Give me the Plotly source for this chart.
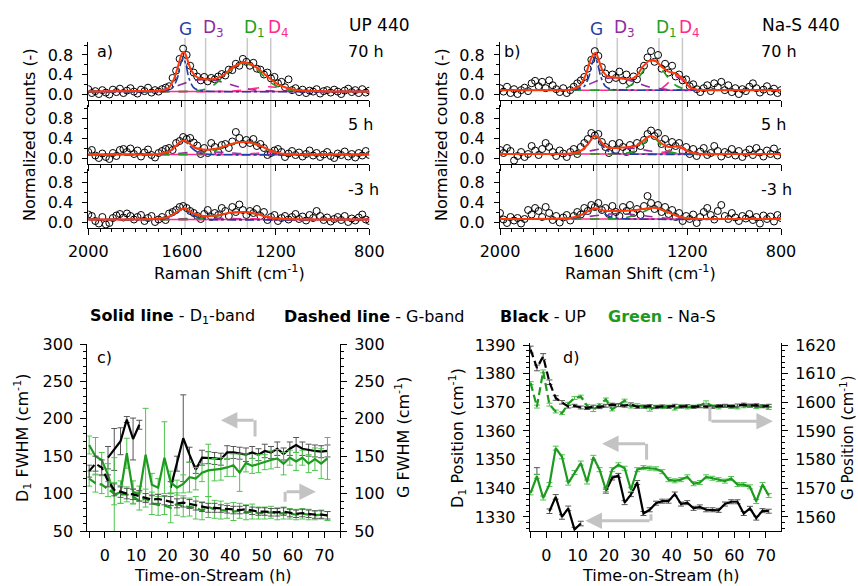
import plotly.graph_objects as go

# ---------------- Raman spectra data ----------------
RAMAN_SHIFT = list(range(2000, 799, -15))
RAMAN_TICKS = [2000, 1800, 1600, 1400, 1200, 1000, 800]
RAMAN_TICK_LABELS = ["2000", "", "1600", "", "1200", "", "800"]
RAMAN_MINOR = list(range(800, 2001, 50))
BAND_NAMES = ["G", "D<sub>3</sub>", "D<sub>1</sub>", "D<sub>4</sub>"]
BAND_CENTERS = [1587, 1499, 1321, 1221]
SPEC_TIMES = ["70 h", "5 h", "-3 h"]

A70_COUNTS = [0.10, 0.02, 0.06, 0.00, 0.08, 0.03, -0.01, 0.09, 0.04, 0.11,
              0.02, 0.07, 0.12, 0.05, 0.01, 0.09, 0.06, 0.13, 0.03, 0.08,
              0.05, 0.10, 0.13, 0.16, 0.33, 0.48, 0.72, 0.93, 0.80, 0.58,
              0.44, 0.36, 0.28, 0.35, 0.26, 0.33, 0.30, 0.36, 0.41, 0.38,
              0.50, 0.49, 0.62, 0.58, 0.72, 0.66, 0.58, 0.64, 0.52, 0.50,
              0.40, 0.44, 0.32, 0.35, 0.22, 0.25, 0.14, 0.30, 0.08, 0.12,
              0.04, 0.09, 0.02, 0.07, 0.05, 0.10, 0.01, 0.06, 0.08, 0.03,
              0.09, 0.05, 0.00, 0.07, 0.11, 0.04, 0.08, 0.02, 0.10, 0.03,
              0.07]
A5_COUNTS = [0.12, 0.16, 0.05, 0.00, 0.09, 0.02, -0.02, 0.10, 0.04, 0.16,
             0.18, 0.12, 0.19, 0.08, 0.15, 0.03, 0.11, 0.17, 0.06, 0.01,
             0.10, 0.14, 0.18, 0.20, 0.16, 0.30, 0.34, 0.42, 0.38, 0.40,
             0.31, 0.25, 0.08, 0.20, 0.10, 0.30, 0.22, 0.12, 0.26, 0.28,
             0.20, 0.33, 0.52, 0.40, 0.28, 0.36, 0.30, 0.38, 0.24, 0.28,
             0.20, 0.06, 0.10, 0.15, 0.18, 0.12, 0.02, 0.09, 0.14, 0.06,
             0.11, 0.03, 0.08, 0.15, 0.05, 0.10, 0.02, 0.07, 0.12, 0.04,
             0.00, 0.09, 0.06, 0.13, 0.03, 0.08, 0.01, 0.10, 0.05, 0.14,
             0.06]
A3_COUNTS = [0.15, 0.12, 0.02, -0.03, 0.10, -0.05, -0.02, 0.08, 0.13, 0.16,
             0.09, 0.17, 0.12, 0.05, 0.10, 0.14, 0.02, 0.08, 0.12, 0.00,
             0.05, 0.10, 0.04, 0.17, 0.20, 0.24, 0.30, 0.32, 0.28, 0.22,
             0.18, 0.12, 0.06, 0.16, 0.24, 0.10, 0.18, 0.14, 0.28, 0.22,
             0.12, 0.30, 0.20, 0.35, 0.24, 0.14, 0.22, 0.18, 0.26, 0.12,
             0.20, 0.04, 0.10, 0.14, 0.02, 0.08, 0.12, 0.05, 0.10, 0.16,
             0.06, 0.11, 0.03, 0.14, 0.08, 0.22, 0.12, 0.04, 0.09, 0.01,
             0.06, 0.10, 0.04, 0.12, 0.00, 0.07, 0.03, 0.09, 0.15, 0.05,
             0.02]
B70_COUNTS = [0.12, 0.05, 0.15, 0.02, 0.10, 0.00, 0.08, 0.13, 0.06, 0.22,
              0.27, 0.16, 0.25, 0.12, 0.28, 0.18, 0.10, 0.04, 0.12, 0.02,
              0.08, 0.15, 0.22, 0.28, 0.35, 0.52, 0.70, 0.88, 0.78, 0.55,
              0.42, 0.30, 0.40, 0.33, 0.46, 0.28, 0.40, 0.24, 0.36, 0.30,
              0.48, 0.58, 0.75, 0.88, 0.66, 0.80, 0.52, 0.62, 0.44, 0.58,
              0.36, 0.40, 0.28, 0.30, 0.16, 0.20, 0.10, 0.04, 0.12, 0.18,
              0.06, 0.22, 0.14, 0.25, 0.08, 0.18, 0.04, 0.12, 0.00, 0.10,
              0.06, 0.15, 0.22, 0.12, 0.03, 0.09, 0.16, 0.05, 0.11, 0.02,
              0.08]
B5_COUNTS = [0.16, 0.10, 0.20, 0.14, -0.05, 0.04, 0.12, 0.02, 0.08, 0.24,
             0.15, 0.06, 0.18, 0.30, 0.22, 0.12, 0.04, 0.15, 0.09, 0.02,
             0.12, 0.18, 0.08, 0.22, 0.30, 0.38, 0.50, 0.45, 0.48, 0.32,
             0.22, 0.10, 0.28, 0.16, 0.30, 0.22, 0.12, 0.26, 0.18, 0.30,
             0.24, 0.36, 0.48, 0.55, 0.44, 0.50, 0.28, 0.38, 0.20, 0.32,
             0.24, 0.30, 0.14, 0.22, 0.08, 0.18, 0.04, 0.13, 0.20, 0.06,
             0.10, 0.24, 0.14, 0.03, 0.12, 0.08, 0.18, 0.05, 0.14, 0.02,
             0.10, 0.17, 0.06, 0.20, 0.11, 0.03, 0.15, 0.08, 0.19, 0.05,
             0.12]
B3_COUNTS = [0.18, 0.05, -0.02, 0.10, 0.03, 0.08, -0.03, 0.06, 0.24, 0.15,
             0.28, 0.22, 0.10, 0.30, 0.18, 0.04, 0.12, -0.01, 0.09, 0.14,
             0.03, 0.12, 0.20, 0.15, 0.28, 0.22, 0.34, 0.30, 0.38, 0.24,
             0.28, 0.16, 0.32, 0.20, 0.12, 0.30, 0.22, 0.34, 0.18, 0.26,
             0.14, 0.32, 0.52, 0.38, 0.26, 0.34, 0.20, 0.30, 0.16, 0.24,
             0.10, 0.18, 0.02, 0.12, 0.06, 0.15, -0.02, 0.10, 0.20, 0.28,
             0.14, 0.05, 0.22, 0.34, 0.12, 0.06, 0.18, 0.09, 0.02, 0.12,
             0.07, 0.16, 0.04, 0.10, -0.03, 0.13, 0.06, 0.11, 0.01, 0.14,
             0.08]

# fitted envelope (red) and band components, read at knot positions
FIT_SHIFT = [2000, 1800, 1700, 1660, 1635, 1615, 1600, 1590, 1580, 1560,
             1540, 1510, 1480, 1450, 1420, 1390, 1360, 1335, 1310, 1280,
             1250, 1220, 1190, 1160, 1120, 1080, 1000, 900, 800]
A70_FIT = [.05, .06, .07, .11, .30, .60, .83, .86, .75, .48, .36, .31, .30, .32, .40,
           .52, .61, .65, .62, .54, .42, .30, .20, .14, .09, .07, .055, .05, .05]
A5_FIT = [.07, .07, .08, .12, .20, .29, .34, .35, .33, .26, .20, .17, .17, .19, .23,
          .28, .31, .32, .31, .27, .21, .15, .10, .08, .07, .07, .07, .07, .07]
A3_FIT = [.05, .05, .07, .10, .16, .22, .26, .27, .25, .20, .15, .12, .12, .13, .16,
          .19, .20, .20, .19, .16, .12, .09, .07, .06, .055, .05, .05, .05, .05]
B70_FIT = [.08, .08, .09, .17, .38, .68, .82, .84, .72, .46, .36, .34, .32, .30, .36,
           .56, .69, .68, .56, .46, .42, .32, .14, .09, .08, .08, .08, .08, .08]
B5_FIT = [.08, .08, .09, .13, .22, .34, .43, .44, .40, .28, .21, .20, .21, .22, .24,
          .34, .44, .40, .29, .22, .23, .20, .12, .09, .08, .08, .08, .08, .08]
B3_FIT = [.06, .065, .08, .13, .19, .24, .27, .27, .26, .23, .22, .22, .22, .23, .24,
          .26, .28, .28, .25, .19, .13, .09, .07, .06, .06, .06, .06, .06, .06]

G_SHIFT = [2000, 1700, 1665, 1640, 1620, 1607, 1595, 1583, 1570, 1550, 1525, 1490, 800]
D3_SHIFT = [2000, 1750, 1680, 1620, 1570, 1530, 1500, 1460, 1410, 1360, 1300, 1240, 800]
D1_SHIFT = [2000, 1560, 1500, 1460, 1420, 1385, 1360, 1335, 1310, 1285, 1250, 1210, 1160, 1100, 800]
D4_SHIFT = [2000, 1420, 1360, 1310, 1270, 1245, 1225, 1200, 1160, 1110, 800]

A70_G = [.05, .055, .07, .13, .32, .60, .74, .60, .32, .13, .07, .055, .05]
A5_G = [.07, .075, .10, .17, .26, .32, .34, .32, .26, .17, .10, .075, .07]
A3_G = [.05, .055, .08, .13, .19, .24, .26, .24, .19, .13, .08, .055, .05]
B70_G = [.08, .085, .10, .16, .36, .62, .76, .62, .36, .16, .10, .085, .08]
B5_G = [.08, .085, .11, .18, .30, .39, .43, .39, .30, .18, .11, .085, .08]
B3_G = [.06, .07, .10, .15, .21, .25, .26, .25, .21, .15, .10, .07, .06]

A70_D3 = [.05, .06, .09, .17, .25, .29, .30, .28, .22, .15, .09, .065, .05]
A5_D3 = [.07, .07, .075, .09, .11, .12, .125, .12, .11, .09, .08, .07, .07]
A3_D3 = [.05, .05, .055, .06, .07, .075, .08, .075, .07, .065, .06, .05, .05]
B70_D3 = [.08, .085, .11, .20, .30, .33, .33, .30, .22, .14, .10, .085, .08]
B5_D3 = [.08, .085, .10, .14, .18, .20, .21, .20, .18, .14, .11, .09, .08]
B3_D3 = [.06, .065, .08, .11, .14, .16, .17, .16, .14, .11, .08, .065, .06]

A70_D1 = [.05, .06, .10, .20, .36, .52, .60, .63, .60, .52, .36, .20, .10, .065, .05]
A5_D1 = [.07, .075, .10, .15, .22, .28, .31, .32, .31, .27, .20, .12, .08, .07, .07]
A3_D1 = [.05, .055, .08, .11, .15, .18, .19, .19, .18, .16, .12, .08, .06, .05, .05]
B70_D1 = [.08, .08, .09, .13, .26, .50, .67, .67, .52, .35, .18, .10, .085, .08, .08]
B5_D1 = [.08, .08, .085, .10, .15, .30, .43, .38, .24, .14, .10, .085, .08, .08, .08]
B3_D1 = [.06, .06, .07, .09, .14, .21, .26, .27, .24, .18, .12, .08, .065, .06, .06]

A70_D4 = [.05, .055, .07, .10, .13, .145, .15, .14, .11, .07, .05]
A5_D4 = [.07, .07, .075, .085, .10, .11, .115, .11, .09, .075, .07]
A3_D4 = [.05, .05, .055, .06, .065, .07, .07, .065, .06, .055, .05]
B70_D4 = [.08, .08, .085, .12, .28, .36, .30, .16, .09, .08, .08]
B5_D4 = [.08, .08, .085, .10, .17, .22, .20, .13, .09, .08, .08]
B3_D4 = [.06, .06, .06, .065, .075, .08, .08, .075, .065, .06, .06]

A_BASE = [0.05, 0.07, 0.05]
B_BASE = [0.08, 0.08, 0.06]

# ---------------- time-on-stream data ----------------
TOS_H = list(range(-5, 72, 2))
UP_D1_FWHM = [None, None, None, 148, 159, 170, 199, 173, 192, None, None, None, None, 108, 140, 174,
              152, 132, 148, 148, 147, 146, 155, 155, 154, 152, 155, 152, 157, 155, 160, 153, 160,
              165, 160, 158, 157, 156, 157]
UP_D1_FWHM_ERR = [0, 0, 0, 15, 28, 18, 4, 28, 6, 0, 0, 0, 0, 8, 10, 58, 10, 5, 10, 8, 8, 8, 9, 8,
                  8, 9, 8, 8, 9, 8, 9, 8, 9, 10, 9, 8, 8, 8, 8]
UP_G_FWHM = [130, 140, 135, 117, 105, 102, 100, 99, 97, 94, 92, 93, 91, 90, 87, 88, 86, 84, 82, 81,
             81, 80, 79, 78, 78, 79, 77, 76, 76, 75, 75, 76, 74, 73, 74, 73, 72, 72, 71]
UP_G_FWHM_ERR = [8, 10, 10, 8, 8, 7, 7, 7, 7, 6, 6, 6, 6, 6, 6, 6, 6, 6, 6, 6, 6, 5, 5, 5, 5, 5, 5,
                 5, 5, 5, 5, 5, 5, 5, 5, 5, 5, 5, 5]
NAS_D1_FWHM = [165, 150, 145, 125, 98, 102, 154, 102, 100, 152, 112, 108, 148, 115, 108, 113, 122,
               120, 128, 131, 132, 133, 135, 138, 128, 141, 137, 140, 142, 145, 147, 140, 148, 143,
               148, 140, 146, 140, 147]
NAS_D1_FWHM_ERR = [12, 25, 10, 15, 50, 15, 20, 15, 10, 62, 15, 12, 48, 15, 10, 12, 20, 15, 12, 35,
                   15, 15, 12, 15, 25, 12, 10, 12, 10, 12, 12, 15, 10, 12, 10, 12, 15, 20, 28]
NAS_G_FWHM = [120, 114, 112, 106, 100, 99, 99, 96, 90, 94, 87, 85, 84, 81, 86, 83, 82, 81, 77, 82,
              79, 78, 77, 76, 77, 75, 76, 74, 74, 75, 73, 74, 73, 72, 73, 72, 71, 72, 70]
NAS_G_FWHM_ERR = [10, 12, 12, 10, 15, 12, 10, 10, 12, 12, 15, 14, 12, 20, 15, 14, 12, 15, 12, 14,
                  12, 12, 10, 12, 10, 10, 10, 8, 8, 8, 8, 8, 7, 7, 7, 7, 6, 6, 6]

UP_D1_POS = [None, 1346, None, 1332, 1337, 1330, 1333, 1325.6, 1327.7, None, None, None, 1339,
             1343.6, 1344.5, 1335, 1337.8, 1342, 1331.2, 1332.5, 1334.8, 1335.5, 1335.5, 1338,
             1334.5, 1335, 1333, 1333.5, 1332.5, 1332.5, 1332.3, 1334.5, 1335.3, 1335.3, 1331.2,
             1333, 1329.6, 1332.2, 1332]
UP_D1_POS_ERR = [0, 1.2, 0, 0.8, 0.8, 0.8, 0.8, 0.8, 0.8, 0, 0, 0, 0.7, 0.7, 0.7, 0.7, 0.7, 0.7,
                 0.7, 0.7, 0.7, 0.7, 0.7, 0.7, 0.7, 0.7, 0.7, 0.7, 0.7, 0.7, 0.7, 0.7, 0.7, 0.7,
                 0.7, 0.7, 0.7, 0.7, 0.7]
NAS_D1_POS = [1338.4, 1344.2, 1336.6, 1341.3, 1354, 1351, 1341.8, 1345.5, 1348.8, 1342.2, 1350.8,
              1346.5, 1339.5, 1346.5, 1348.2, 1347, 1339.5, 1346.5, 1347.2, 1347, 1346.8, 1345.8,
              1343, 1342.6, 1343, 1344, 1341.6, 1342, 1344, 1343.5, 1343, 1342.5, 1343.4, 1341.3,
              1341.3, 1340.5, 1335.4, 1341.3, 1337.5]
NAS_D1_POS_ERR = [0.7] * 39
UP_G_POS = [1618.4, 1612, 1616, 1607, 1601.5, 1600, 1598.5, 1598.8, 1598.2, 1598, 1598.5, 1598.3,
            1598.8, 1599.2, 1599, 1598.8, 1599.3, 1598.4, 1598.5, 1598.7, 1598.3, 1598.6, 1598.4,
            1598.8, 1598.5, 1598.7, 1598.4, 1598.6, 1598.5, 1598.4, 1598.7, 1598.8, 1598.6,
            1598.9, 1599.2, 1598.8, 1599, 1598.6, 1598.8]
UP_G_POS_ERR = [1.2, 1.0, 1.0, 0.8, 0.8, 0.6, 0.5, 0.5, 0.5, 0.5, 0.5, 0.5, 0.5, 0.5, 0.5, 0.5,
                0.5, 0.5, 0.5, 0.5, 0.5, 0.5, 0.5, 0.5, 0.5, 0.5, 0.5, 0.5, 0.5, 0.5, 0.5, 0.5,
                0.5, 0.5, 0.5, 0.5, 0.5, 0.5, 0.5]
NAS_G_POS = [1606.7, 1598.5, 1610.8, 1599.2, 1596.8, 1596.2, 1599.5, 1601.5, 1602, 1598.8, 1597.3,
             1599, 1601, 1597.5, 1599, 1600.6, 1598.5, 1599, 1598.5, 1597.4, 1598.5, 1598.3,
             1598.5, 1597.8, 1598.6, 1598.2, 1598.5, 1598.8, 1600, 1598.6, 1598.2, 1598.7,
             1598.4, 1598.2, 1598.6, 1598.9, 1598.3, 1598.7, 1598]
NAS_G_POS_ERR = [0.5] * 39

# ---------------- styling ----------------
FONT = "DejaVu Sans"
W, H = 858, 586
RED, BLUE, PURPLE, GREEN_B, PINK = "#ff3a0a", "#1f3fa6", "#902c9e", "#1fa01f", "#ff2a8c"
GREEN, GREEN_ERR, BLACK_ERR, ARROW = "#1e9a1e", "#4fc44f", "#555555", "#c3c3c3"
LONG_DASH = "8px,4px"


def px(x):
    return x / W


def py(y):
    return 1 - y / H


fig = go.Figure()

spectra = [
    (1, A70_COUNTS, A70_FIT, A70_G, A70_D3, A70_D1, A70_D4, A_BASE[0]),
    (2, A5_COUNTS, A5_FIT, A5_G, A5_D3, A5_D1, A5_D4, A_BASE[1]),
    (3, A3_COUNTS, A3_FIT, A3_G, A3_D3, A3_D1, A3_D4, A_BASE[2]),
    (4, B70_COUNTS, B70_FIT, B70_G, B70_D3, B70_D1, B70_D4, B_BASE[0]),
    (5, B5_COUNTS, B5_FIT, B5_G, B5_D3, B5_D1, B5_D4, B_BASE[1]),
    (6, B3_COUNTS, B3_FIT, B3_G, B3_D3, B3_D1, B3_D4, B_BASE[2]),
]
for k, cnt, fit, g, d3, d1, d4, base in spectra:
    xa = "x" if k == 1 else f"x{k}"
    ya = "y" if k == 1 else f"y{k}"
    fig.add_trace(go.Scatter(x=RAMAN_SHIFT, y=cnt, mode="markers", xaxis=xa, yaxis=ya,
                             marker=dict(symbol="circle-open", size=7, color="black",
                                         line=dict(width=1, color="black")),
                             hoverinfo="skip"))
    fig.add_trace(go.Scatter(x=[RAMAN_SHIFT[0], RAMAN_SHIFT[-1]], y=[base, base], mode="lines",
                             xaxis=xa, yaxis=ya, line=dict(color=PINK, width=1.5), hoverinfo="skip"))
    for xs, ys, col, dash in [(D3_SHIFT, d3, PURPLE, "dash"), (D4_SHIFT, d4, PINK, "dash"),
                              (D1_SHIFT, d1, GREEN_B, "dash"), (G_SHIFT, g, BLUE, "dashdot")]:
        fig.add_trace(go.Scatter(x=xs, y=ys, mode="lines", xaxis=xa, yaxis=ya,
                                 line=dict(color=col, width=1.6, dash=dash, shape="spline",
                                           smoothing=0.8), hoverinfo="skip"))
    fig.add_trace(go.Scatter(x=FIT_SHIFT, y=fit, mode="lines", xaxis=xa, yaxis=ya,
                             line=dict(color=RED, width=2, shape="spline", smoothing=0.8),
                             hoverinfo="skip"))


def series(x, y, err, color, ecolor, dash, xa, ya, width=2.2):
    fig.add_trace(go.Scatter(x=x, y=y, mode="lines", xaxis=xa, yaxis=ya,
                             line=dict(color=color, width=width, dash=dash),
                             error_y=dict(type="data", array=err, color=ecolor, thickness=1, width=3),
                             hoverinfo="skip"))


# panel c
series(TOS_H, NAS_G_FWHM, NAS_G_FWHM_ERR, GREEN, GREEN_ERR, LONG_DASH, "x7", "y8")
series(TOS_H, UP_G_FWHM, UP_G_FWHM_ERR, "black", BLACK_ERR, LONG_DASH, "x7", "y8")
series(TOS_H, UP_D1_FWHM, UP_D1_FWHM_ERR, "black", BLACK_ERR, "solid", "x7", "y7")
series(TOS_H, NAS_D1_FWHM, NAS_D1_FWHM_ERR, GREEN, GREEN_ERR, "solid", "x7", "y7")
# panel d
series(TOS_H, NAS_G_POS, NAS_G_POS_ERR, GREEN, GREEN_ERR, LONG_DASH, "x8", "y10")
series(TOS_H, UP_G_POS, UP_G_POS_ERR, "black", BLACK_ERR, LONG_DASH, "x8", "y10")
series(TOS_H, UP_D1_POS, UP_D1_POS_ERR, "black", BLACK_ERR, "solid", "x8", "y9")
series(TOS_H, NAS_D1_POS, NAS_D1_POS_ERR, GREEN, GREEN_ERR, "solid", "x8", "y9")

# ---------------- axes ----------------
axis_common = dict(showline=True, linecolor="black", linewidth=1, ticks="outside", tickcolor="black",
                   tickwidth=1, showgrid=False, zeroline=False, automargin=False,
                   tickfont=dict(size=16, color="black", family=FONT))
layout = {}
ROWS = [(41.8, 99.9), (104.5, 164.0), (168.5, 228.0)]
COLS = [(88.3, 369.3), (500.0, 781.0)]
for c, (x0, x1) in enumerate(COLS):
    for r, (y0, y1) in enumerate(ROWS):
        k = c * 3 + r + 1
        xn = "xaxis" if k == 1 else f"xaxis{k}"
        yn = "yaxis" if k == 1 else f"yaxis{k}"
        bottom = r == 2
        layout[xn] = dict(axis_common, domain=[px(x0), px(x1)], anchor="y" if k == 1 else f"y{k}",
                          range=[2000, 800], ticklen=6, tickvals=RAMAN_TICKS,
                          ticktext=RAMAN_TICK_LABELS, showticklabels=bottom, ticklabelstandoff=3,
                          minor=dict(tickvals=RAMAN_MINOR, ticks="outside", ticklen=3,
                                     tickcolor="black"))
        layout[yn] = dict(axis_common, domain=[py(y1), py(y0)], anchor="x" if k == 1 else f"x{k}",
                          range=[-0.12, 1.07], dtick=0.4, tick0=0, tickformat=".1f", ticklen=5,
                          ticklabelstandoff=6,
                          minor=dict(dtick=0.2, ticks="outside", ticklen=3, tickcolor="black"))

layout["xaxis7"] = dict(axis_common, domain=[px(87.3), px(340)], anchor="y7", range=[-5.6, 75],
                        dtick=10, tick0=0, ticklen=6, ticklabelstandoff=4,
                        minor=dict(dtick=5, ticks="outside", ticklen=6, tickcolor="black"))
layout["yaxis7"] = dict(axis_common, domain=[py(531), py(344)], anchor="x7", range=[50, 300],
                        dtick=50, ticklen=6, ticklabelstandoff=4,
                        minor=dict(dtick=10, ticks="outside", ticklen=3, tickcolor="black"))
layout["yaxis8"] = dict(axis_common, overlaying="y7", side="right", anchor="x7", range=[50, 300],
                        dtick=50, ticklen=6, ticklabelstandoff=4,
                        minor=dict(dtick=10, ticks="outside", ticklen=3, tickcolor="black"))
layout["xaxis8"] = dict(axis_common, domain=[px(529.7), px(781)], anchor="y9", range=[-5.3, 74.9],
                        dtick=10, tick0=0, ticklen=6, ticklabelstandoff=4,
                        minor=dict(dtick=5, ticks="outside", ticklen=6, tickcolor="black"))
layout["yaxis9"] = dict(axis_common, domain=[py(530.7), py(343)], anchor="x8",
                        range=[1325.2, 1390.7], dtick=10, tick0=1330, ticklen=6, ticklabelstandoff=4,
                        minor=dict(dtick=2, ticks="outside", ticklen=3, tickcolor="black"))
layout["yaxis10"] = dict(axis_common, overlaying="y9", side="right", anchor="x8",
                         range=[1555.2, 1620.7], dtick=10, tick0=1560, ticklen=6,
                         ticklabelstandoff=4,
                         minor=dict(dtick=2, ticks="outside", ticklen=3, tickcolor="black"))

# ---------------- shapes (band lines, arrows) ----------------
shapes = []
for xr in ["x", "x4"]:
    for pos in BAND_CENTERS:
        shapes.append(dict(type="line", xref=xr, yref="paper", x0=pos, x1=pos, y0=py(228), y1=py(38),
                           line=dict(color="#c8c8c8", width=1.5), layer="below"))

ARROW_STEMS = [("x7", "y7", 47.9, 197.9, 47.9, 176.4), ("x7", "y7", 57.5, 89.0, 57.5, 102.4),
               ("x8", "y9", 52.2, 1368.5, 52.2, 1363.4), ("x8", "y9", 32.0, 1355.5, 32.0, 1350.0),
               ("x8", "y9", 33.4, 1328.7, 33.4, 1330.9)]
ARROW_HEADS = [("x7", "y7", 47.9, 197.9, 37.0, 197.9), ("x7", "y7", 57.5, 102.4, 67.3, 102.4),
               ("x8", "y9", 52.2, 1363.4, 72.3, 1363.4), ("x8", "y9", 32.0, 1355.5, 17.8, 1355.5),
               ("x8", "y9", 33.4, 1328.7, 12.5, 1328.7)]
for xr, yr, x0, y0, x1, y1 in ARROW_STEMS:
    shapes.append(dict(type="line", xref=xr, yref=yr, x0=x0, y0=y0, x1=x1, y1=y1,
                       line=dict(color=ARROW, width=3)))

ann = []
for xr, yr, x0, y0, x1, y1 in ARROW_HEADS:
    ann.append(dict(xref=xr, yref=yr, axref=xr, ayref=yr, x=x1, y=y1, ax=x0, ay=y0, text="",
                    showarrow=True, arrowhead=2, arrowsize=1.1, arrowwidth=3, arrowcolor=ARROW,
                    standoff=0))


def text(x, y, s, size=16, xanchor="left", angle=0, color="black"):
    ann.append(dict(xref="paper", yref="paper", x=px(x), y=py(y), text=s, showarrow=False,
                    xanchor=xanchor, yanchor="middle", textangle=angle,
                    font=dict(size=size, color=color, family=FONT)))


band_colors = [BLUE, PURPLE, GREEN_B, PINK]
for xr in ["x", "x4"]:
    for name, pos, col in zip(BAND_NAMES, BAND_CENTERS, band_colors):
        ann.append(dict(xref=xr, yref="paper", x=pos, y=py(29), text=name, showarrow=False,
                        xanchor="center" if name == "G" else "left", xshift=0 if name == "G" else -5,
                        yanchor="middle", font=dict(size=17, color=col, family=FONT)))

text(347, 25, "UP 440", 17)
text(760, 25, "Na-S 440", 17)
for lbl, yy in zip(SPEC_TIMES, [52, 124, 189]):
    text(346, yy, lbl)
    text(759, yy, lbl)
text(95, 52, "a)")
text(502, 52, "b)")
text(95, 357, "c)")
text(561, 357, "d)")
text(29, 135, "Normalized counts (-)", angle=-90, xanchor="center")
text(441, 135, "Normalized counts (-)", angle=-90, xanchor="center")
text(229, 272, "Raman Shift (cm<sup>-1</sup>)", xanchor="center")
text(640, 272, "Raman Shift (cm<sup>-1</sup>)", xanchor="center")
text(88, 316, "<b>Solid line</b> - D<sub>1</sub>-band")
text(282, 316, "<b>Dashed line</b> - G-band")
text(498, 316, "<b>Black</b> - UP")
text(606, 316, f"<span style='color:{GREEN}'><b>Green</b></span> - Na-S")
text(22, 438, "D<sub>1</sub> FWHM (cm<sup>-1</sup>)", angle=-90, xanchor="center")
text(402, 438, "G FWHM (cm<sup>-1</sup>)", angle=-90, xanchor="center")
text(457, 438, "D<sub>1</sub> Position (cm<sup>-1</sup>)", angle=-90, xanchor="center")
text(847, 438, "G Position (cm<sup>-1</sup>)", size=15, angle=-90, xanchor="center")
text(213, 575, "Time-on-Stream (h)", xanchor="center")
text(661, 575, "Time-on-Stream (h)", xanchor="center")

fig.update_layout(width=W, height=H, margin=dict(l=0, r=0, t=0, b=0, autoexpand=False),
                  showlegend=False, paper_bgcolor="white", plot_bgcolor="rgba(0,0,0,0)",
                  font=dict(family=FONT, size=16, color="black"),
                  shapes=shapes, annotations=ann, **layout)

fig.write_html("out.html", config={"displayModeBar": False},
               post_script="document.body.style.margin='0px';document.body.style.padding='0px';")
